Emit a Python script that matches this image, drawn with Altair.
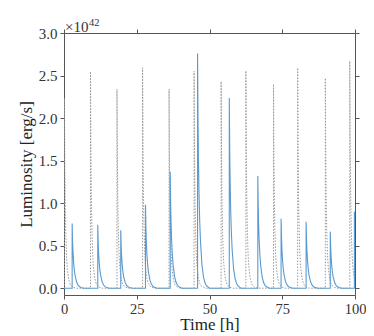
import altair as alt
import pandas as pd

# Peak times [h] and peak luminosities [1e42 erg/s]
blue_times = [2.8, 11.6, 19.5, 28.0, 36.5, 45.9, 56.8, 66.6, 74.6, 83.2, 91.5, 99.8]
blue_peaks = [0.76, 0.745, 0.68, 0.98, 1.37, 2.76, 2.235, 1.32, 0.815, 0.78, 0.665, 0.90]
grey_times = [0.15, 9.1, 18.2, 27.0, 36.1, 44.7, 54.0, 62.5, 72.0, 80.3, 89.8, 98.2]
grey_peaks = [2.23, 2.545, 2.34, 2.59, 2.34, 2.55, 2.43, 2.556, 2.40, 2.59, 2.47, 2.67]

# Decay profile: hours after peak -> fraction of peak
decay_offsets = [0.0, 0.15, 0.3, 0.5, 0.75, 1.0, 1.5, 2.0, 2.5, 3.0, 4.0]
blue_decay = [1.0, 0.72, 0.55, 0.40, 0.28, 0.20, 0.10, 0.05, 0.025, 0.012, 0.0]
grey_decay = [1.0, 0.62, 0.42, 0.27, 0.16, 0.10, 0.045, 0.02, 0.01, 0.005, 0.0]

y_ticks = [0.0, 0.5, 1.0, 1.5, 2.0, 2.5, 3.0]
x_ticks = [0, 25, 50, 75, 100]


def build(times, peaks, decay, name):
    rows = [(0.0, 0.0)]
    for t, p in zip(times, peaks):
        rows.append((t, 0.0))
        for off, f in zip(decay_offsets, decay):
            rows.append((t + off, p * f))
    rows.append((100.0, 0.0))
    return pd.DataFrame({"t": [r[0] for r in rows], "L": [r[1] for r in rows],
                         "i": list(range(len(rows))), "s": name})


blue_df = build(blue_times, blue_peaks, blue_decay, "blue")
grey_df = build(grey_times, grey_peaks, grey_decay, "grey")

FONT = "Liberation Serif"
xs = alt.Scale(domain=[0, 100], nice=False, zero=False)
ys = alt.Scale(domain=[-0.08, 3.0], nice=False, zero=False)

ax_common = dict(grid=False, domainColor="#555", tickColor="#555", tickSize=4,
                 labelFont=FONT, labelColor="#333",
                 titleFont=FONT, titleFontSize=17, titleColor="#222",
                 titleFontWeight="normal", domainWidth=1, tickWidth=1)

x_bottom = alt.X("t:Q", scale=xs, axis=alt.Axis(title="Time [h]", values=x_ticks,
                 labelFontSize=14.5, labelPadding=3, titlePadding=1,
                 labelFlush=False, **ax_common))
y_left = alt.Y("L:Q", scale=ys, axis=alt.Axis(title="Luminosity [erg/s]", values=y_ticks,
               format=".1f", labelFontSize=15, labelPadding=3, titlePadding=3,
               **ax_common))

grey = alt.Chart(grey_df).mark_line(color="#9a9a9a", strokeWidth=1,
                                    strokeDash=[1.5, 1.5], clip=True).encode(
    x=x_bottom, y=y_left, order=alt.Order("i:Q"))

x_top = alt.X("t:Q", scale=xs, axis=alt.Axis(orient="top", title=None, labels=False,
              values=x_ticks, **ax_common))
y_right = alt.Y("L:Q", scale=ys, axis=alt.Axis(orient="right", title=None, labels=False,
                values=y_ticks, **ax_common))

blue = alt.Chart(blue_df).mark_line(color="#5a9ad0", strokeWidth=1.1, clip=True).encode(
    x=x_top, y=y_right, order=alt.Order("i:Q"))

label_df = pd.DataFrame({"a": ["×10"], "b": ["42"]})
off1 = alt.Chart(label_df).mark_text(font=FONT, color="#333",
                                     align="left", baseline="alphabetic").encode(
    text="a:N", x=alt.value(1), y=alt.value(-1), size=alt.value(15))
off2 = alt.Chart(label_df).mark_text(font=FONT, color="#333",
                                     align="left", baseline="alphabetic").encode(
    text="b:N", x=alt.value(25), y=alt.value(-7), size=alt.value(10.5))

chart = alt.layer(grey, blue, off1, off2).resolve_axis(
    x="independent", y="independent").resolve_scale(x="shared", y="shared").properties(
    width=291, height=262,
    autosize=alt.AutoSizeParams(type="none"),
    padding={"left": 56, "top": 25, "right": 11, "bottom": 41},
).configure_view(stroke=None).configure(background="white")

chart.save("out.html", embed_options={"renderer": "svg", "actions": False})
